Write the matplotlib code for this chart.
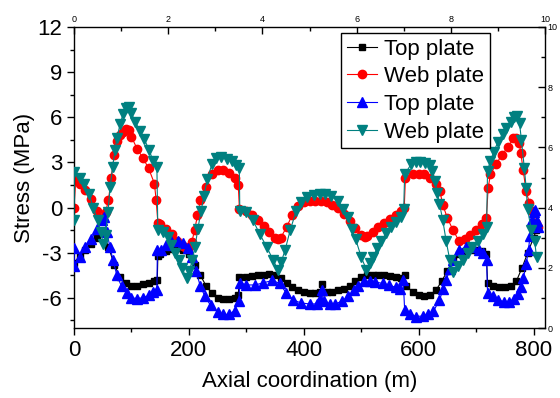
"""
Stress along the axial coordinate, two plotting layers (Origin-style double axes).
"""

import matplotlib
matplotlib.use("Agg")
import matplotlib.pyplot as plt
from matplotlib.ticker import MultipleLocator

plt.rcParams['font.family'] = ['Liberation Sans', 'DejaVu Sans']
plt.rcParams['axes.unicode_minus'] = False

# === DATA ===
# layer 1 (bottom / left axes): axial coordinate in m, stress in MPa
top_x = [0, 10, 20, 30, 40, 50, 60, 70, 80, 90, 100, 110, 120, 130, 140, 145, 146,
         150, 160, 170, 180, 190, 200, 210, 220, 230, 240, 250, 260, 270, 280, 286, 288,
         300, 310, 320, 330, 340, 350, 360, 370, 380, 390, 400, 410, 420, 428, 431, 434,
         440, 450, 460, 470, 480, 490, 500, 510, 520, 530, 540, 550, 560, 570, 576, 578,
         590, 600, 610, 620, 630, 640, 650, 660, 670, 680, 690, 700, 710, 718,
         720, 730, 740, 750, 760, 770, 780, 790, 800, 805]
top_y = [-3.7, -3.2, -2.8, -2.4, -2.0, -1.7, -2.6, -3.8, -4.6, -5.0, -5.2, -5.2, -5.1, -5.0, -4.9, -4.8, -3.2,
         -3.1, -2.9, -2.75, -2.7, -2.8, -3.1, -3.8, -4.5, -5.2, -5.7, -6.0, -6.1, -6.1, -6.0, -5.8, -4.6,
         -4.6, -4.55, -4.5, -4.45, -4.4, -4.45, -4.7, -5.0, -5.3, -5.5, -5.6, -5.7, -5.7, -5.6, -5.1, -5.6,
         -5.6, -5.6, -5.5, -5.4, -5.2, -4.9, -4.6, -4.5, -4.5, -4.5, -4.5, -4.55, -4.6, -4.65, -4.5, -5.2,
         -5.6, -5.8, -5.9, -5.8, -5.5, -4.9, -4.2, -3.5, -3.1, -2.9, -2.8, -2.8, -2.9, -3.1,
         -5.0, -5.2, -5.3, -5.3, -5.2, -4.9, -4.0, -3.0, -2.0, -1.5]

web_x = [0, 3, 10, 20, 30, 40, 50, 55, 60, 65, 70, 75, 80, 85, 90, 95, 100,
         110, 120, 130, 140, 143, 146, 150, 160, 170, 180, 190, 195, 200, 205, 210, 215, 220,
         230, 240, 250, 260, 270, 280, 286, 288, 300, 310, 320, 330, 340, 350, 355,
         360, 370, 380, 390, 400, 410, 420, 430, 440, 450, 460, 470, 480, 490, 500, 506,
         510, 520, 530, 540, 550, 560, 570, 575, 577, 590, 600, 610, 620, 630, 637, 642,
         650, 660, 670, 680, 690, 700, 710, 718, 721, 725, 735, 745, 755, 765,
         770, 775, 778, 782, 787, 793, 798, 805, 808]
web_y = [0.0, 1.9, 1.6, 1.15, 0.6, -0.2, -0.7, -0.3, 0.5, 2.0, 3.5, 4.4, 4.8, 5.05, 5.2, 5.15, 4.7,
         3.9, 3.3, 2.6, 1.6, 0.5, -1.0, -1.1, -1.4, -1.75, -2.2, -2.55, -2.7, -2.6, -2.3, -1.5, -0.5, 0.5,
         1.4, 2.2, 2.5, 2.5, 2.3, 2.0, 1.5, -0.1, -0.25, -0.5, -0.8, -1.2, -1.6, -2.0, -2.1,
         -2.0, -1.3, -0.5, 0.1, 0.35, 0.45, 0.45, 0.45, 0.4, 0.2, 0.0, -0.4, -0.9, -1.35, -1.8, -1.95,
         -1.9, -1.6, -1.3, -1.0, -0.75, -0.5, -0.2, 0.0, 2.0, 2.2, 2.25, 2.2, 2.0, 1.6, 1.1, 0.2,
         -0.7, -1.5, -2.2, -2.1, -1.8, -1.5, -1.1, -0.7, 1.3, 2.2, 2.9, 3.5, 4.0, 4.6,
         4.6, 4.3, 3.6, 2.5, 1.1, 0.3, -0.2, -1.0, -1.3]

# layer 2 (top / right axes, both 0..10)
top2_x = [0.00, 0.01, 0.12, 0.24, 0.37, 0.49, 0.59, 0.63, 0.70, 0.76,
          0.83, 0.91, 1.01, 1.12, 1.22, 1.34, 1.46, 1.59, 1.68, 1.76,
          1.77, 1.85, 1.95, 2.07, 2.20, 2.32, 2.41, 2.50, 2.59, 2.68,
          2.78, 2.90, 3.05, 3.17, 3.29, 3.41, 3.50, 3.52, 3.66, 3.84,
          4.02, 4.21, 4.37, 4.51, 4.66, 4.82, 5.00, 5.15, 5.22, 5.26,
          5.30, 5.43, 5.55, 5.70, 5.82, 5.94, 6.04, 6.16, 6.28, 6.40,
          6.55, 6.68, 6.83, 6.93, 6.99, 7.02, 7.13, 7.26, 7.40, 7.52,
          7.63, 7.76, 7.84, 7.90, 7.98, 8.05, 8.18, 8.33, 8.48, 8.60,
          8.68, 8.76, 8.78, 8.89, 9.00, 9.12, 9.24, 9.34, 9.43, 9.49,
          9.54, 9.60, 9.65, 9.68, 9.72, 9.76, 9.79, 9.83, 9.85]
top2_y = [2.65, 2.05, 2.35, 2.68, 2.95, 3.28, 3.58, 3.70, 3.20, 2.70,
          2.25, 1.75, 1.38, 1.15, 1.00, 0.98, 1.00, 1.08, 1.18, 1.25,
          2.58, 2.58, 2.75, 2.88, 2.90, 2.83, 2.65, 2.35, 1.90, 1.40,
          1.05, 0.75, 0.53, 0.45, 0.45, 0.58, 0.90, 1.50, 1.43, 1.43,
          1.50, 1.58, 1.48, 1.15, 0.93, 0.83, 0.80, 0.80, 0.95, 1.25,
          0.90, 0.80, 0.80, 0.90, 1.05, 1.25, 1.40, 1.55, 1.55, 1.53,
          1.48, 1.43, 1.35, 1.30, 1.58, 0.60, 0.48, 0.38, 0.40, 0.45,
          0.55, 0.93, 1.30, 1.58, 1.95, 2.25, 2.58, 2.70, 2.68, 2.58,
          2.48, 2.25, 1.15, 1.05, 0.93, 0.88, 0.88, 0.95, 1.13, 1.35,
          1.65, 2.13, 2.60, 3.05, 3.60, 3.85, 3.93, 3.55, 3.35]

web2_x = [0.00, 0.01, 0.12, 0.22, 0.32, 0.41, 0.50, 0.57, 0.62, 0.67,
          0.72, 0.77, 0.82, 0.87, 0.91, 0.98, 1.04, 1.10, 1.16, 1.22,
          1.30, 1.40, 1.49, 1.59, 1.68, 1.76, 1.78, 1.89, 2.00, 2.07,
          2.15, 2.22, 2.29, 2.39, 2.45, 2.51, 2.57, 2.63, 2.70, 2.76,
          2.83, 2.93, 3.02, 3.13, 3.24, 3.35, 3.45, 3.51, 3.52, 3.66,
          3.80, 3.94, 4.09, 4.23, 4.33, 4.40, 4.48, 4.59, 4.72, 4.83,
          4.94, 5.09, 5.22, 5.33, 5.46, 5.61, 5.72, 5.82, 5.90, 5.98,
          6.10, 6.21, 6.28, 6.34, 6.44, 6.52, 6.63, 6.73, 6.84, 6.95,
          7.00, 7.02, 7.16, 7.26, 7.34, 7.45, 7.55, 7.61, 7.66, 7.71,
          7.76, 7.83, 7.90, 7.98, 8.05, 8.15, 8.26, 8.37, 8.46, 8.57,
          8.68, 8.76, 8.78, 8.84, 8.91, 9.00, 9.10, 9.18, 9.27, 9.35,
          9.41, 9.46, 9.50, 9.56, 9.60, 9.63, 9.71, 9.78, 9.82]
web2_y = [3.60, 5.18, 5.00, 4.78, 4.45, 4.00, 3.58, 3.20, 2.80, 3.10,
          3.85, 4.70, 5.35, 5.90, 6.30, 6.78, 7.10, 7.30, 7.33, 7.13,
          6.85, 6.55, 6.28, 5.93, 5.55, 5.35, 3.25, 3.20, 3.03, 2.75,
          2.48, 2.25, 2.00, 1.65, 1.90, 2.25, 2.70, 3.30, 3.90, 4.40,
          4.95, 5.45, 5.65, 5.68, 5.63, 5.55, 5.43, 5.30, 3.88, 3.85,
          3.58, 3.13, 2.70, 2.25, 1.93, 2.20, 2.58, 3.25, 3.90, 4.18,
          4.35, 4.43, 4.45, 4.44, 4.38, 4.23, 3.95, 3.68, 3.30, 2.95,
          2.35, 1.93, 2.15, 2.35, 2.65, 2.90, 3.15, 3.35, 3.53, 3.68,
          3.95, 5.10, 5.45, 5.50, 5.50, 5.48, 5.40, 5.20, 4.90, 4.50,
          4.13, 3.58, 2.90, 2.25, 1.85, 2.05, 2.25, 2.50, 2.70, 2.90,
          3.13, 3.35, 5.23, 5.55, 5.85, 6.18, 6.45, 6.63, 6.83, 7.00,
          7.05, 6.80, 6.23, 5.33, 4.65, 3.95, 3.25, 2.90, 2.35]

labels = ['Top plate', 'Web plate', 'Top plate', 'Web plate']

# === PLOT ===
W, H = 560, 398
rect = [74 / W, 1 - 328 / H, 471 / W, 301 / H]

fig = plt.figure(figsize=(W / 100, H / 100), dpi=100)
ax = fig.add_axes(rect)

h1, = ax.plot(top_x, top_y, color='black', marker='s', ms=5, lw=0.8)
h2, = ax.plot(web_x, web_y, color='red', marker='o', ms=6, lw=0.8)

ax.set_xlim(0, 820)
ax.set_ylim(-8, 12)
ax.xaxis.set_major_locator(MultipleLocator(200))
ax.xaxis.set_minor_locator(MultipleLocator(100))
ax.yaxis.set_major_locator(MultipleLocator(3))
ax.yaxis.set_minor_locator(MultipleLocator(1.5))
ax.tick_params(which='both', direction='out', top=False, right=False, labelsize=16, width=1)
ax.tick_params(which='major', length=5)
ax.tick_params(which='minor', length=3)
for s in ax.spines.values():
    s.set_linewidth(1.0)
ax.set_xlabel('Axial coordination (m)', fontsize=16, labelpad=7)
ax.set_ylabel('Stress (MPa)', fontsize=16, labelpad=2)

# second layer on top/right axes
ax2 = fig.add_axes(rect, frameon=False)
h3, = ax2.plot(top2_x, top2_y, color='blue', marker='^', ms=6.5, lw=0.8)
h4, = ax2.plot(web2_x, web2_y, color='#008080', marker='v', ms=6.5, lw=0.8)

ax2.set_xlim(0, 10)
ax2.set_ylim(0, 10)
ax2.xaxis.tick_top()
ax2.yaxis.tick_right()
ax2.xaxis.set_major_locator(MultipleLocator(2))
ax2.xaxis.set_minor_locator(MultipleLocator(1))
ax2.yaxis.set_major_locator(MultipleLocator(2))
ax2.yaxis.set_minor_locator(MultipleLocator(1))
ax2.tick_params(which='both', direction='in', labelsize=6.5, pad=2, width=1)
ax2.tick_params(which='major', length=5)
ax2.tick_params(which='minor', length=3)

leg = ax2.legend([h1, h2, h3, h4], labels, loc='upper left', bbox_to_anchor=(0.567, 0.98),
                 fontsize=16, fancybox=False, edgecolor='black', framealpha=1,
                 handlelength=1.35, handletextpad=0.35, labelspacing=0.3,
                 borderpad=0.25, borderaxespad=0)
leg.get_frame().set_linewidth(1.0)

plt.savefig('out.png', dpi=100)
plt.close()
